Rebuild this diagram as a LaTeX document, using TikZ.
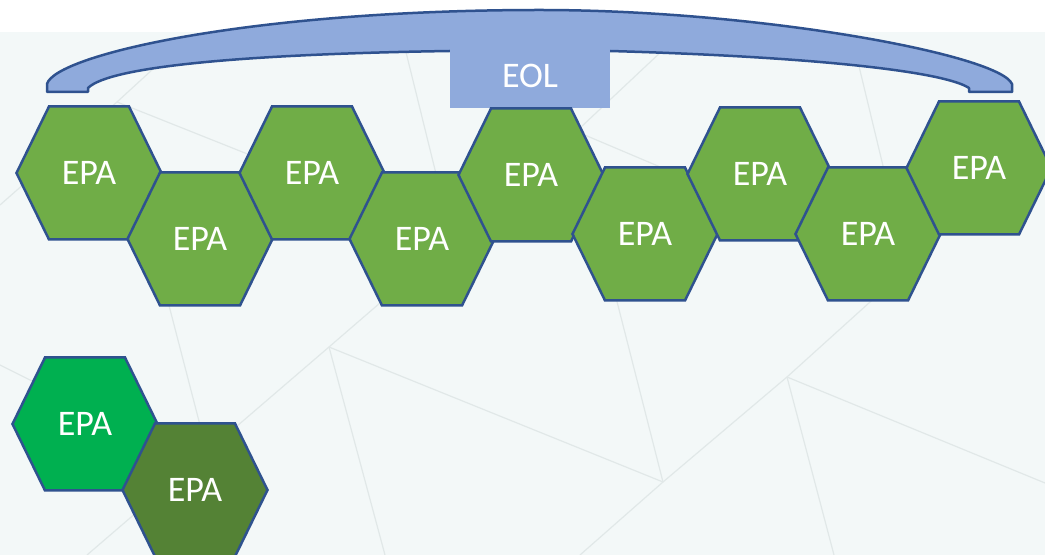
\documentclass[tikz,border=0pt]{standalone}
\usepackage{fontspec}
\setmainfont{Carlito}
\usepackage{xcolor}
\usepackage{tikz}
\usetikzlibrary{positioning}

\definecolor{epagreen}{HTML}{70AD47}
\definecolor{epabright}{HTML}{00B050}
\definecolor{epadark}{HTML}{548235}
\definecolor{eolblue}{HTML}{8FAADC}
\definecolor{edgeblue}{HTML}{2F528F}
\definecolor{slidebg}{HTML}{F3F8F8}
\definecolor{gridgray}{HTML}{E1E8E8}

\tikzset{
    hexcell/.style={draw=edgeblue, line width=1.25pt, line join=miter},
    epalabel/.style={text=white, font=\fontsize{18}{21}\selectfont, inner sep=0pt},
    slideline/.style={draw=gridgray, line width=0.6pt},
}

\begin{document}
\begin{tikzpicture}[x=0.5pt, y=-0.5pt]
    % Slide background
    \useasboundingbox (0,0) rectangle (1045,555);
    \fill[white] (0,0) rectangle (1045,32);
    \fill[slidebg] (0,32) rectangle (1045,555);

    % Faint lines of the slide texture
    \coordinate (p1) at (329,347);
    \coordinate (p2) at (663,482);
    \coordinate (p3) at (787,377);
    \draw[slideline] (0,205) -- (117,102) -- (165,58);
    \draw[slideline] (117,102) -- (250,155);
    \draw[slideline] (403,40) -- (440,190);
    \draw[slideline] (165,290) -- (200,425);
    \draw[slideline] (0,365) -- (40,385);
    \draw[slideline] (395,290) -- (p1) -- (87,555);
    \draw[slideline] (p1) -- (p2) -- (p3) -- (880,293);
    \draw[slideline] (p1) -- (385,555);
    \draw[slideline] (p2) -- (612,282);
    \draw[slideline] (p2) -- (580,555);
    \draw[slideline] (p3) -- (1045,483);
    \draw[slideline] (p3) -- (834,555);
    \draw[slideline] (663,50) -- (580,128);
    \draw[slideline] (580,133) -- (665,169);
    \draw[slideline] (857,58) -- (884,170);

    % EOL bracket
    \draw[fill=eolblue, draw=edgeblue, line width=1.25pt, line join=round] (47,92) -- (47,84)
        .. controls (55,55) and (250,10) .. (540,10)
        .. controls (760,10) and (1000,55) .. (1012,84)
        -- (1012,92) -- (969,92) -- (969,88)
        .. controls (945,72) and (820,57) .. (610,51)
        -- (450,51)
        .. controls (250,54) and (110,66) .. (88,88)
        -- (88,92) -- cycle;
    \fill[eolblue] (450,49) rectangle (610,108); % Tab
    \node[epalabel] (eol) at (530,76) {EOL};

    % EPA cells
    \foreach \cx/\cy/\col [count=\i] in {89/173/epagreen, 200/239/epagreen,
        312/173/epagreen, 422/239/epagreen, 531/175/epagreen, 645/234/epagreen,
        760/174/epagreen, 868/234/epagreen, 979/168/epagreen,
        85/424/epabright, 195/490/epadark}{
        \draw[hexcell, fill=\col] (\cx,\cy) +(-72.5,0) -- +(-40,-66.5) -- +(40,-66.5)
            -- +(72.5,0) -- +(40,66.5) -- +(-40,66.5) -- cycle;
        \node[epalabel] (epa\i) at (\cx,\cy) {EPA};
    }
\end{tikzpicture}
\end{document}
